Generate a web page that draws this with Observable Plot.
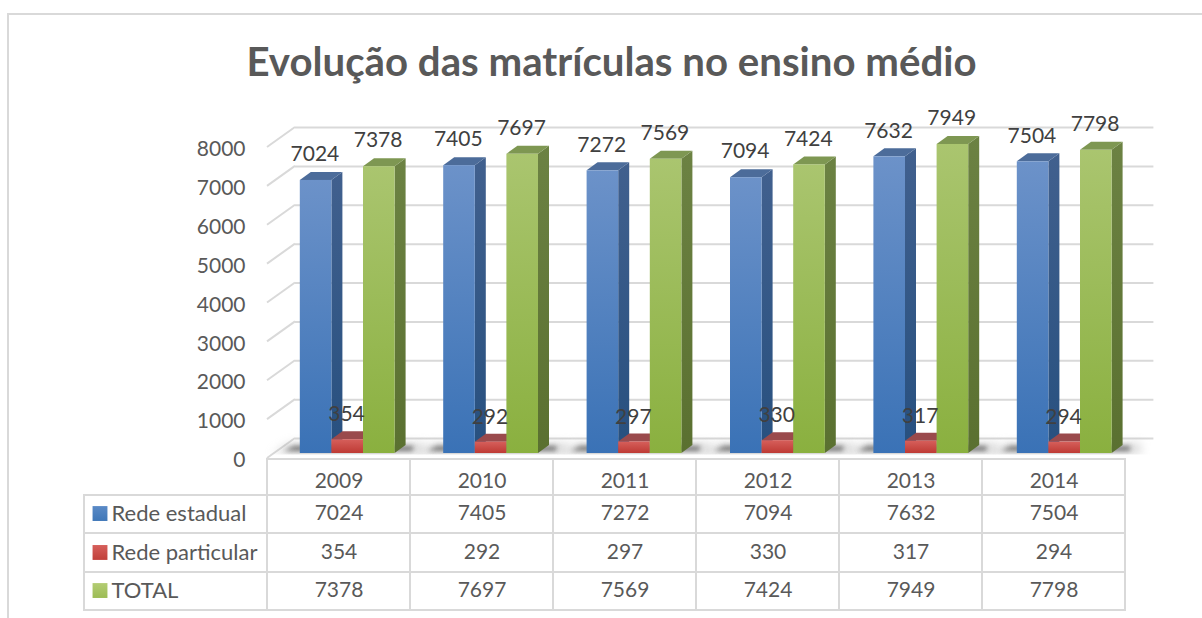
<!DOCTYPE html>
<html lang="pt">
<head>
<meta charset="utf-8">
<title>Evolução das matrículas no ensino médio</title>
<script src="https://cdn.jsdelivr.net/npm/d3@7"></script>
<script src="https://cdn.jsdelivr.net/npm/@observablehq/plot@0.6"></script>
<style>
  html, body { margin: 0; padding: 0; background: #fff; }
  #page { position: relative; width: 1202px; height: 618px; overflow: hidden; }
  #frame { position: absolute; left: 7px; top: 13px; width: 1300px; height: 700px; border: 2px solid #d9d9d9; box-sizing: border-box; }
  #title { position: relative; height: 100px; margin: 0; text-align: center; padding: 37px 0 0 21px; box-sizing: border-box;
           font: 700 40.2px/48px Lato, sans-serif; color: #595959; }
  #page svg { display: block; position: relative; }
</style>
</head>
<body>
<div id="page">
  <div id="frame"></div>
  <h1 id="title">Evolução das matrículas no ensino médio</h1>
  <div id="chart"></div>
  <div id="table"></div>
</div>
<script>
const years = ["2009", "2010", "2011", "2012", "2013", "2014"];
const seriesNames = ["Rede estadual", "Rede particular", "TOTAL"];
const redeEstadual = [7024, 7405, 7272, 7094, 7632, 7504];
const redeParticular = [354, 292, 297, 330, 317, 294];
const total = [7378, 7697, 7569, 7424, 7949, 7798];
const yTicks = [0, 1000, 2000, 3000, 4000, 5000, 6000, 7000, 8000];
const seriesValues = [redeEstadual, redeParticular, total];

const font = "Lato, sans-serif";
const gridColor = "#d9d9d9";
const depthX = 11, depthY = -8;       // bar depth
const wallX = 27, wallY = -15;        // back wall offset from the bar plane
const barStart = 31.8, barWidth = 31.6;

const looks = [
  {id: "blue",  stops: ["#6c92c9", "#3a72b6"], side: ["#41608e", "#27507f"], top: "#4c6c9a"},
  {id: "red",   stops: ["#d65f5b", "#be3a34"], side: ["#8e3a3a", "#8e3a3a"], top: "#9a4a4c"},
  {id: "green", stops: ["#aac56f", "#8ab03f"], side: ["#6c8243", "#5a7030"], top: "#7e9752"}
];
const swatches = [["#5a8ac6", "#3f77b8"], ["#d65f5b", "#c1403a"], ["#b3cc73", "#9cbc55"]];

function defsMark() {
  const defs = d3.create("svg:defs");
  const grad = (id, a, b) => {
    const g = defs.append("linearGradient").attr("id", id).attr("x1", 0).attr("x2", 0).attr("y1", 0).attr("y2", 1);
    g.append("stop").attr("offset", 0).attr("stop-color", a);
    g.append("stop").attr("offset", 1).attr("stop-color", b);
  };
  looks.forEach(l => { grad(l.id, l.stops[0], l.stops[1]); grad(l.id + "-side", l.side[0], l.side[1]); });
  swatches.forEach((s, i) => grad("sw" + i, s[0], s[1]));
  const blur = (id, sd) => defs.append("filter").attr("id", id)
    .attr("x", "-30%").attr("y", "-150%").attr("width", "160%").attr("height", "400%")
    .append("feGaussianBlur").attr("stdDeviation", sd);
  blur("soft", 2.4);
  blur("softer", 5);
  return defs.node();
}

// Side walls: diagonals joining the wall lines to the front edge
function sideWall(index, {x, y}) {
  const g = d3.create("svg:g").attr("stroke", gridColor).attr("stroke-width", 2).attr("fill", "none");
  const x0 = x(years[0]);
  for (const t of yTicks) {
    g.append("path").attr("d", `M${x0 - 1},${y(t) + 5}L${x0 + wallX},${y(t) + wallY}`);
  }
  return g.node();
}

// Soft shadow on the floor round each group of bars
function floorShadow(index, {x, y}) {
  const g = d3.create("svg:g");
  const y0 = y(0);
  const clipId = "floor-clip";
  g.append("clipPath").attr("id", clipId).append("rect")
    .attr("x", 0).attr("y", y0 - 20).attr("width", 1202).attr("height", 21.5);
  const inner = g.append("g").attr("clip-path", `url(#${clipId})`);
  for (const yr of years) {
    const left = x(yr) + barStart;
    const right = left + 3 * barWidth;
    inner.append("path")
      .attr("d", `M${left - 28},${y0 + 1}L${left - 10},${y0 - 10}L${right + depthX + 18},${y0 - 10}L${right + 30},${y0 + 1}Z`)
      .attr("fill", "#b8b8b8").attr("opacity", 0.5).attr("filter", "url(#softer)");
    inner.append("path")
      .attr("d", `M${left - 16},${y0 - 2}L${left - 6},${y0 - 7}L${right + depthX + 8},${y0 - 7}L${right + 18},${y0 - 2}Z`)
      .attr("fill", "#4a4a4a").attr("opacity", 0.72).attr("filter", "url(#soft)");
  }
  return g.node();
}

// Side and top faces of one series' bars, behind its front face
function depthFaces(s) {
  return (index, {x, y}) => {
    const g = d3.create("svg:g");
    years.forEach((yr, i) => {
      const l = x(yr) + barStart + s * barWidth, r = l + barWidth;
      const t = y(seriesValues[s][i]), b = y(0);
      g.append("path").attr("fill", `url(#${looks[s].id}-side)`)
        .attr("d", `M${r},${t}L${r + depthX},${t + depthY}L${r + depthX},${b + depthY}L${r},${b}Z`);
      g.append("path").attr("fill", looks[s].top)
        .attr("d", `M${l},${t}L${l + depthX},${t + depthY}L${r + depthX},${t + depthY}L${r},${t}Z`);
    });
    return g.node();
  };
}

const barData = years.map((year, i) => ({year, values: seriesValues.map(v => v[i])}));
const bandStep = 143.4;

const seriesMarks = seriesValues.flatMap((vals, s) => [
  depthFaces(s),
  Plot.barY(barData, {
    x: "year",
    y: d => d.values[s],
    insetLeft: barStart + s * barWidth,
    insetRight: bandStep - (barStart + (s + 1) * barWidth),
    fill: `url(#${looks[s].id})`
  })
]);

const labelMarks = seriesValues.map((vals, s) =>
  Plot.text(barData, {
    x: "year",
    y: d => d.values[s],
    text: d => String(d.values[s]),
    dx: barStart + (s + 0.5) * barWidth - bandStep / 2 - 1.2,
    dy: s === 1 ? -25 : -26,
    fontSize: 21,
    fill: "#404040"
  })
);

const chart = Plot.plot({
  width: 1202,
  height: 358,
  marginLeft: 268,
  marginRight: 73.6,
  marginTop: 42,
  marginBottom: 5,
  style: {fontFamily: font, background: "transparent", overflow: "visible"},
  x: {domain: years, padding: 0, round: false, axis: null},
  y: {domain: [0, 8000], axis: null},
  marks: [
    defsMark,
    sideWall,
    Plot.ruleY(yTicks, {dx: wallX, dy: wallY, insetRight: 2, stroke: gridColor, strokeWidth: 2}),
    floorShadow,
    ...seriesMarks,
    Plot.axisY({
      ticks: yTicks, tickSize: 0, tickPadding: 23, dy: 7, fontSize: 21,
      tickFormat: d => String(d), label: null, color: "#595959"
    }),
    ...labelMarks
  ]
});
document.getElementById("chart").appendChild(chart);

// Data table below the chart, with its own band scales
const headerRow = "ano";
const rows = [headerRow, ...seriesNames];
const cellData = rows.flatMap((row, r) => years.map((year, i) => ({
  row, year, text: r === 0 ? year : String(seriesValues[r - 1][i])
})));
const rowHeads = seriesNames.map((name, s) => ({row: name, year: years[0], s}));
// fine placement of each row's rules and text inside its band
const rowInsets = [[0, 1.75], [-1.75, 1.5], [-1.5, 0.25], [-0.25, 0]];
const rowTextDy = [3.1, -2.6, -1.4, -1.1];

const table = Plot.plot({
  width: 1202,
  height: 154,
  marginLeft: 267,
  marginRight: 77,
  marginTop: 1,
  marginBottom: 2,
  style: {fontFamily: font, background: "transparent"},
  x: {domain: years, padding: 0, round: false, axis: null},
  y: {domain: rows, padding: 0, round: false, axis: null},
  marks: rows.flatMap((row, r) => {
    const cells = cellData.filter(d => d.row === row);
    const heads = rowHeads.filter(d => d.row === row);
    const inset = {insetTop: rowInsets[r][0], insetBottom: rowInsets[r][1]};
    return [
      Plot.cell(cells, {x: "year", y: "row", fill: "none", stroke: gridColor, strokeWidth: 2, ...inset}),
      Plot.cell(heads, {x: "year", y: "row", insetLeft: -183, insetRight: 143, fill: "none", stroke: gridColor, strokeWidth: 2, ...inset}),
      Plot.text(cells, {x: "year", y: "row", text: "text", dy: rowTextDy[r], fontSize: 21, fill: "#595959"}),
      Plot.dot(heads, {x: "year", y: "row", symbol: "square", r: 8.4, fill: `url(#sw${r - 1})`, dx: -239, dy: rowTextDy[r]}),
      Plot.text(heads, {x: "year", y: "row", text: "row", textAnchor: "start", dx: -227.5, dy: rowTextDy[r], fontSize: 22, fill: "#595959"})
    ];
  })
});
document.getElementById("table").appendChild(table);
</script>
</body>
</html>
